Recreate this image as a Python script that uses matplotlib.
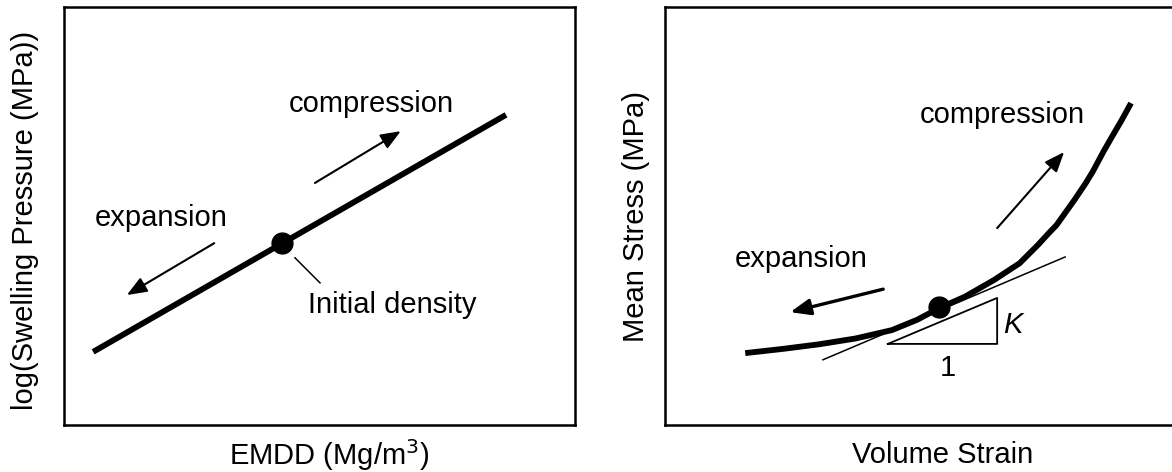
import matplotlib
matplotlib.use("Agg")
import matplotlib.pyplot as plt

plt.rcParams["font.family"] = ["Liberation Sans", "DejaVu Sans"]
plt.rcParams["font.size"] = 21

# ── left panel: log(swelling pressure) vs EMDD ──────────────────────────────
emdd_line_x = [0.57, 8.65]
emdd_line_y = [1.75, 7.42]
emdd_init = (4.27, 4.35)
emdd_comp_arrow = [(4.91, 5.79), (6.59, 7.03)]
emdd_exp_arrow = [(2.94, 4.35), (1.23, 3.11)]
emdd_leader_x = [4.52, 5.01]
emdd_leader_y = [4.00, 3.40]

# ── right panel: mean stress vs volume strain ───────────────────────────────
strain_x = [1.57, 2.30, 3.01, 3.73, 4.44, 4.94, 5.37, 5.87, 6.44, 6.59,
            6.94, 7.30, 7.51, 7.66, 7.87, 8.01, 8.23, 8.37, 8.58, 8.73,
            8.94, 9.12]
stress_y = [1.72, 1.82, 1.93, 2.07, 2.27, 2.52, 2.80, 3.07, 3.47, 3.59,
            3.87, 4.31, 4.59, 4.78, 5.14, 5.38, 5.78, 6.06, 6.54, 6.86,
            7.30, 7.70]
strain_init = (5.36, 2.82)
tangent_x = [3.09, 7.83]
tangent_y = [1.56, 4.02]
tri_x = [4.36, 6.50, 6.50, 4.36]
tri_y = [1.94, 1.94, 3.04, 1.94]
strain_comp_arrow = [(6.50, 4.71), (7.81, 6.53)]
strain_exp_arrow = [(4.27, 3.25), (2.45, 2.70)]

W, H = 1172, 472
fig = plt.figure(figsize=(W / 100, H / 100), dpi=100)
ax1 = fig.add_axes([64 / W, 47 / H, 511 / W, 418 / H])
ax2 = fig.add_axes([665 / W, 47 / H, 511 / W, 418 / H])

for ax in (ax1, ax2):
    ax.set_xlim(0, 10)
    ax.set_ylim(0, 10)
    ax.set_xticks([])
    ax.set_yticks([])
    for s in ax.spines.values():
        s.set_linewidth(1.8)


def arrow(ax, pts, lw=1.5):
    (x0, y0), (x1, y1) = pts
    ax.annotate("", xy=(x1, y1), xytext=(x0, y0),
                arrowprops=dict(arrowstyle="-|>,head_length=0.55,head_width=0.22",
                                lw=lw, color="black",
                                mutation_scale=22, shrinkA=0, shrinkB=0))


# left
ax1.plot(emdd_line_x, emdd_line_y, color="black", lw=4.2, solid_capstyle="butt")
ax1.plot(*emdd_init, "o", color="black", ms=15)
ax1.plot(emdd_leader_x, emdd_leader_y, color="black", lw=1.1)
arrow(ax1, emdd_comp_arrow)
arrow(ax1, emdd_exp_arrow)
ax1.text(6.01, 7.49, "compression", ha="center", va="baseline")
ax1.text(1.90, 4.76, "expansion", ha="center", va="baseline")
ax1.text(4.77, 2.68, "Initial density", ha="left", va="baseline")
ax1.set_ylabel("log(Swelling Pressure (MPa))")
ax1.yaxis.set_label_coords(-0.049, 0.49)
ax1.set_xlabel("EMDD (Mg/m$^3$)", va="center")
ax1.xaxis.set_label_coords(0.519, -0.072)

# right
ax2.plot(tangent_x, tangent_y, color="black", lw=1.1)
ax2.plot(tri_x, tri_y, color="black", lw=1.3)
ax2.plot(strain_x, stress_y, color="black", lw=4.2,
         solid_capstyle="butt", solid_joinstyle="round")
ax2.plot(*strain_init, "o", color="black", ms=15)
arrow(ax2, strain_comp_arrow)
arrow(ax2, strain_exp_arrow, lw=2.4)
ax2.text(6.61, 7.22, "compression", ha="center", va="baseline")
ax2.text(2.66, 3.78, "expansion", ha="center", va="baseline")
ax2.text(6.61, 2.20, "K", ha="left", va="baseline", style="italic")
ax2.text(5.54, 1.17, "1", ha="center", va="baseline")
ax2.set_ylabel("Mean Stress (MPa)")
ax2.yaxis.set_label_coords(-0.029, 0.50)
ax2.set_xlabel("Volume Strain", va="center")
ax2.xaxis.set_label_coords(0.544, -0.072)

fig.savefig("out.png", dpi=100)
